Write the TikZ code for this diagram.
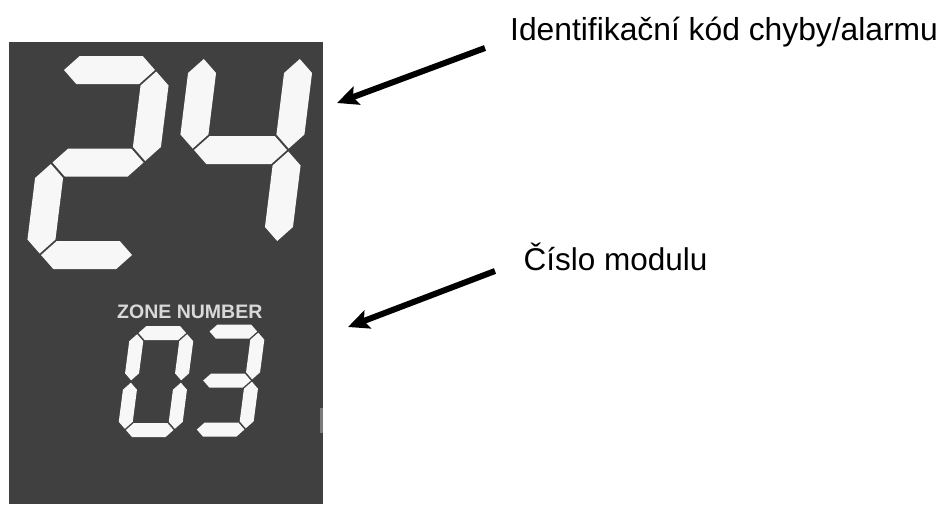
\documentclass[tikz,border=0pt]{standalone}
\usepackage{fontspec}
\setmainfont{Liberation Sans}
\usetikzlibrary{arrows.meta}
\definecolor{panel}{HTML}{404040}
\definecolor{segcol}{HTML}{F7F7F7}
\definecolor{zonetxt}{HTML}{D9D9D9}
\definecolor{markcol}{HTML}{7A7A7A}
% horizontal segment: x-from, x-to, y
\newcommand\hseg[3]{\fill[segcol] ({#1+\sgG},{#3}) -- ({#1+\sgG+\sgh},{#3-\sgh}) -- ({#2-\sgG-\sgh},{#3-\sgh}) -- ({#2-\sgG},{#3}) -- ({#2-\sgG-\sgh},{#3+\sgh}) -- ({#1+\sgG+\sgh},{#3+\sgh}) -- cycle;}
% vertical segment: y-from, y-to, x
\newcommand\vseg[3]{\fill[segcol] ({#3},{#1+\sgG}) -- ({#3+\sgh},{#1+\sgG+\sgh}) -- ({#3+\sgh},{#2-\sgG-\sgh}) -- ({#3},{#2-\sgG}) -- ({#3-\sgh},{#2-\sgG-\sgh}) -- ({#3-\sgh},{#1+\sgG+\sgh}) -- cycle;}
\tikzset{
  label/.style={anchor=base west,inner sep=0pt},
  pointer/.style={line width=6pt,-{Stealth[length=21pt,width=19pt,inset=4pt]}},
}
\begin{document}
\begin{tikzpicture}[x=1pt,y=-1pt]
\useasboundingbox (0,0) rectangle (943,504);
% display panel
\fill[panel] (9,42) rectangle (323,504);
\fill[markcol] (320,408) rectangle (323,433);
% big digit 2
\begin{scope}[shift={(98,162.5)},xslant=0.124]
  \def\sgW{47}\def\sgHH{92.5}\def\sgh{14}\def\sgG{1.5}
  \hseg{-\sgW}{\sgW}{-\sgHH}
  \vseg{-\sgHH}{0}{\sgW}
  \hseg{-\sgW}{\sgW}{0}
  \vseg{0}{\sgHH}{-\sgW}
  \hseg{-\sgW}{\sgW}{\sgHH}
\end{scope}
% big digit 4
\begin{scope}[shift={(240.5,150)},xslant=0.124]
  \def\sgW{48}\def\sgHH{92.5}\def\sgh{14}\def\sgG{1.5}
  \vseg{-\sgHH}{0}{-\sgW}
  \vseg{-\sgHH}{0}{\sgW}
  \hseg{-\sgW}{\sgW}{0}
  \vseg{0}{\sgHH}{\sgW}
\end{scope}
% zone label
\node[anchor=base west,inner sep=0pt,text=zonetxt,font=\bfseries\fontsize{19.5}{22}\selectfont] (zone) at (117,318) {ZONE NUMBER};
% small digit 0
\begin{scope}[shift={(156,381.5)},xslant=0.13]
  \def\sgW{25}\def\sgHH{48.5}\def\sgh{7}\def\sgG{1.2}
  \hseg{-\sgW}{\sgW}{-\sgHH}
  \vseg{-\sgHH}{0}{\sgW}
  \vseg{0}{\sgHH}{\sgW}
  \hseg{-\sgW}{\sgW}{\sgHH}
  \vseg{0}{\sgHH}{-\sgW}
  \vseg{-\sgHH}{0}{-\sgW}
\end{scope}
% small digit 3
\begin{scope}[shift={(227,380.5)},xslant=0.13]
  \def\sgW{25}\def\sgHH{49}\def\sgh{7}\def\sgG{1.2}
  \hseg{-\sgW}{\sgW}{-\sgHH}
  \vseg{-\sgHH}{0}{\sgW}
  \hseg{-\sgW}{\sgW}{0}
  \vseg{0}{\sgHH}{\sgW}
  \hseg{-\sgW}{\sgW}{\sgHH}
\end{scope}
% labels and pointers
\node[label,font=\fontsize{31.8}{38}\selectfont] (code) at (510,40) {Identifikační kód chyby/alarmu};
\node[label,font=\fontsize{31.5}{38}\selectfont] (module) at (523.5,270) {Číslo modulu};
\coordinate (codetail) at (485,48);
\coordinate (codetip) at (337,103);
\coordinate (moduletail) at (495,271);
\coordinate (moduletip) at (348,327);
\draw[pointer] (codetail) -- (codetip);
\draw[pointer] (moduletail) -- (moduletip);
\end{tikzpicture}
\end{document}
